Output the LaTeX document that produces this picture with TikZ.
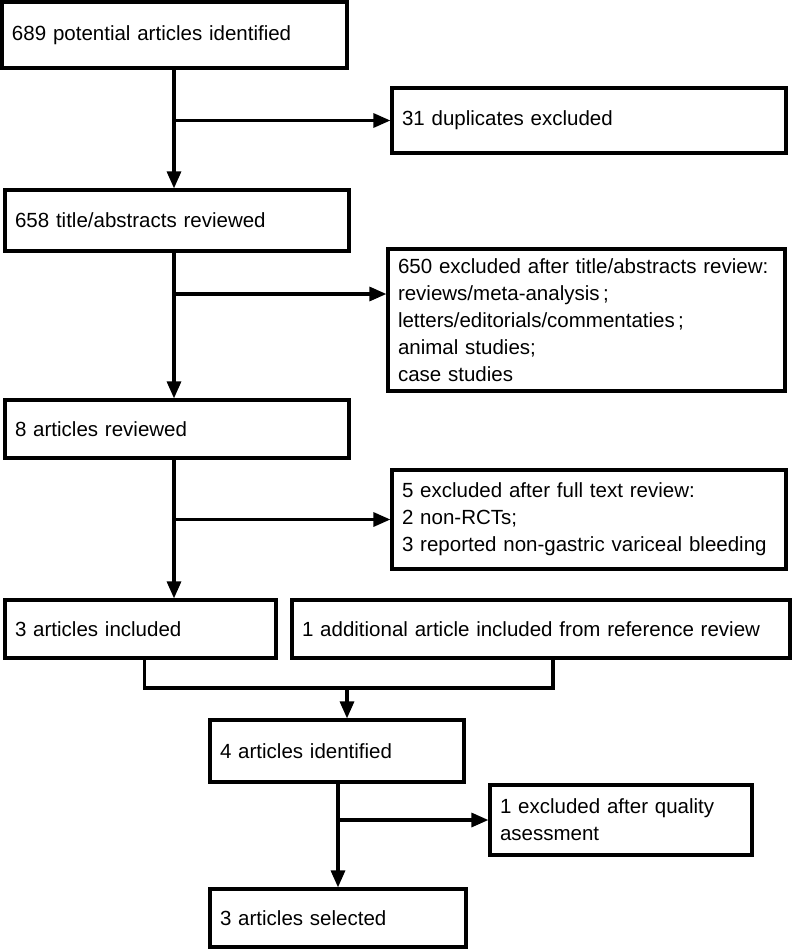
\documentclass[tikz,border=0pt]{standalone}
\usepackage{fontspec}
\setmainfont{Liberation Sans}
\usetikzlibrary{arrows.meta}

\begin{document}
\begin{tikzpicture}[x=1pt,y=-1pt]
      \tikzstyle{every node}+=[font=\fontsize{20.5}{27}\selectfont]
      \tikzstyle{box}=[draw, black, line width=3.2pt, inner xsep=10pt, inner ysep=0pt, align=left]
      \tikzstyle{flow}=[black, line width=3.2pt, -{Triangle[length=17pt,width=14pt]}]
      \tikzstyle{link}=[black, line width=3.2pt]
      \useasboundingbox (0,0) rectangle (800,950);
      \node [box, text width=325pt, minimum height=66pt] (n689) at (174.5,35) {689 potential articles identified};
      \node [box, text width=374pt, minimum height=65pt] (dup31) at (589,120.5) {31 duplicates excluded};
      \node [box, text width=324pt, minimum height=61pt] (n658) at (177,220.5) {658 title/abstracts reviewed};
      \node [box, text width=377pt, minimum height=142pt] (exc650) at (586.5,320) {650 excluded after title/abstracts review:\\reviews/meta-analysis\,;\\letters/editorials/commentaties\,;\\animal studies;\\case studies};
      \node [box, text width=324pt, minimum height=58pt] (n8) at (177,429) {8 articles reviewed};
      \node [box, text width=374pt, minimum height=99pt] (exc5) at (589,519.5) {5 excluded after full text review:\\2 non-RCTs;\\3 reported non-gastric variceal bleeding};
      \node [box, text width=251pt, minimum height=58pt] (inc3) at (140.5,629) {3 articles included};
      \node [box, text width=478pt, minimum height=58pt] (add1) at (541,629) {1 additional article included from reference review};
      \node [box, text width=234pt, minimum height=62pt] (id4) at (337,751) {4 articles identified};
      \node [box, text width=242pt, minimum height=70pt] (excq) at (621,820) {1 excluded after quality\\asessment};
      \node [box, text width=236pt, minimum height=58pt] (sel3) at (338,918) {3 articles selected};
      \coordinate (b1) at (174,120.5);
      \coordinate (b2) at (174,294);
      \coordinate (b3) at (174,519.5);
      \coordinate (j) at (347,688);
      \coordinate (b4) at (338,820);
      \draw [flow] (n689.south -| b1) -- (n658.north -| b1);
      \draw [flow] (b1) -- (dup31.west);
      \draw [flow] (n658.south -| b2) -- (n8.north -| b2);
      \draw [flow] (b2) -- (b2 -| exc650.west);
      \draw [flow] (n8.south -| b3) -- (inc3.north -| b3);
      \draw [flow] (b3) -- (exc5.west);
      \draw [link] ([xshift=4pt]inc3.south) |- (j) -| ([xshift=12pt]add1.south);
      \draw [flow] (j) -- (j |- id4.north);
      \draw [flow] (id4.south -| b4) -- (sel3.north -| b4);
      \draw [flow] (b4) -- (excq.west);
\end{tikzpicture}
\end{document}
